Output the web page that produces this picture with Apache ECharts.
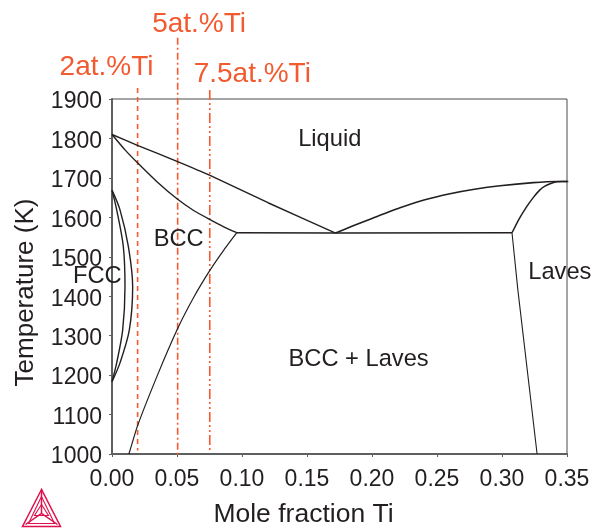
<!DOCTYPE html>
<html><head><meta charset="utf-8">
<style>html,body{margin:0;padding:0;background:#fff}#c{width:595px;height:528px}</style>
<script src="https://cdn.jsdelivr.net/npm/echarts@6/dist/echarts.min.js"></script>
</head><body><div id="c"></div>
<script>
const liquidusLeft=[[0,1810],[0.02,1782],[0.05,1742],[0.075,1707],[0.12,1637],[0.172,1560]];
const solidusBcc=[[0,1810],[0.01,1771],[0.02,1737],[0.035,1689],[0.05,1647],[0.0625,1618],[0.075,1595],[0.086,1576],[0.096,1561]];
const solvusBcc=[[0.096,1561],[0.086,1517],[0.0754,1466],[0.063,1398],[0.0505,1318],[0.035,1200],[0.0197,1072],[0.013,1000]];
const eutectic=[[0.0959,1561],[0.172,1560],[0.3077,1561]];
const liquidusRight=[[0.172,1560],[0.185,1578],[0.2,1597],[0.2215,1624],[0.24,1644],[0.26,1660],[0.28,1672],[0.2985,1680],[0.324,1688],[0.342,1691],[0.351,1691]];
const lavesSolidus=[[0.3077,1561],[0.313,1595],[0.319,1627],[0.324,1650],[0.329,1669],[0.333,1679],[0.337,1685],[0.342,1690],[0.346,1691],[0.35,1691]];
const lavesSolvus=[[0.3077,1561],[0.3122,1416],[0.327,1000]];
const fccOuter=[[0,1669],[0.00615,1619],[0.0126,1526],[0.0159,1424],[0.0133,1314],[0.00615,1231],[0,1183]];
const fccInner=[[0,1669],[0.0036,1619],[0.0087,1526],[0.01,1424],[0.0082,1314],[0.0036,1231],[0,1183]];
const line2=[[0.0197,1928],[0.0197,1009]];
const line5=[[0.0505,2055],[0.0505,993]];
const line75=[[0.0752,1923],[0.0752,1005]];
const phaseLabels=[[0.1675,1798,'Liquid'],[0.0513,1545,'BCC'],[-0.0113,1450,'FCC'],[0.1897,1240,'BCC + Laves'],[0.3445,1461,'Laves']];
const compLabels=[[-0.0042,1981,'2at.%Ti'],[0.067,2090,'5at.%Ti'],[0.1079,1963,'7.5at.%Ti']];
const INK='#231f20', RED='#f25a30', AX='#5f5f5f';
const font='"Liberation Sans", Arial, sans-serif';
const curve=(d,w)=>({type:'line',data:d,showSymbol:false,smooth:false,clip:false,silent:true,
  lineStyle:{color:INK,width:w||1.4},animation:false,z:3});
const smoothed=(d,w,s)=>Object.assign(curve(d,w),{smooth:s||0.3});
const vline=(d,dash,w)=>({type:'line',data:d,showSymbol:false,clip:false,silent:true,animation:false,z:2,
  lineStyle:{color:RED,width:w||1.6,type:dash,opacity:1}});
const labels=(d,size,color)=>({type:'scatter',data:d,symbolSize:0,clip:false,silent:true,animation:false,z:5,itemStyle:{opacity:1},
  label:{show:true,position:'inside',formatter:p=>p.data[2],fontFamily:font,fontSize:size,color:color,opacity:1}});
const c=echarts.init(document.getElementById('c'),null,{renderer:'canvas'});
c.setOption({
  animation:false,backgroundColor:'#fff',
  grid:{left:112,right:28,top:99,bottom:74,outerBoundsMode:'none',show:true,borderColor:'#4a4a4a',borderWidth:1,backgroundColor:'transparent'},
  xAxis:{type:'value',min:0,max:0.35,interval:0.05,name:'Mole fraction Ti',nameLocation:'middle',nameGap:47,
    nameTextStyle:{fontFamily:font,fontSize:26.5,color:INK,padding:[0,72,0,0]},
    axisLine:{onZero:false,lineStyle:{color:AX,width:2}},axisTick:{length:3,lineStyle:{color:AX,width:1}},splitLine:{show:false},
    axisLabel:{fontFamily:font,fontSize:23,color:INK,margin:14,hideOverlap:false,showMinLabel:true,showMaxLabel:true,
      formatter:v=>v.toFixed(2)}},
  yAxis:{type:'value',min:1000,max:1900,interval:100,name:'Temperature (K)',nameLocation:'middle',nameGap:73,
    nameTextStyle:{fontFamily:font,fontSize:26,color:INK,padding:[0,32,0,0]},
    axisLine:{onZero:false,lineStyle:{color:AX,width:2}},axisTick:{length:3,lineStyle:{color:AX,width:1}},splitLine:{show:false},
    axisLabel:{margin:10,showMinLabel:true,showMaxLabel:true,formatter:v=>'{t|'+v+'}',
      rich:{t:{fontFamily:font,fontSize:23,color:INK,padding:[6,0,0,0]}}}},
  series:[
    vline(line2,[5,4]),vline(line5,[7,3,2,3]),vline(line75,[10,3,2,3,2,3]),
    smoothed(liquidusLeft,1.4,0.15),smoothed(solidusBcc,1.4,0.15),smoothed(solvusBcc,1.2,0.15),curve(eutectic,1.5),
    smoothed(liquidusRight,1.6,0.15),smoothed(lavesSolidus,1.5,0.15),curve(lavesSolvus,1.1),smoothed(fccOuter),smoothed(fccInner),
    labels(phaseLabels,23.7,INK),labels(compLabels,28,RED)
  ],
  graphic:[{type:'group',left:20,top:487,silent:true,children:[
    {type:'polygon',shape:{points:[[19,0],[0,37],[38,37]]},style:{fill:'none',stroke:'#e0104f',lineWidth:1.5}},
    {type:'polygon',shape:{points:[[19,7],[6,34],[32,34]]},style:{fill:'none',stroke:'#e0104f',lineWidth:1.1}},
    {type:'polyline',shape:{points:[[19,0],[19,24]]},style:{fill:'none',stroke:'#e0104f',lineWidth:1.5}},
    {type:'polyline',shape:{points:[[3,35],[19,24],[35,35]]},style:{fill:'none',stroke:'#e0104f',lineWidth:1.5}},
    {type:'polygon',shape:{points:[[19,15],[12,26],[26,26]]},style:{fill:'none',stroke:'#e0104f',lineWidth:1.1}}
  ]}]
});
</script></body></html>
